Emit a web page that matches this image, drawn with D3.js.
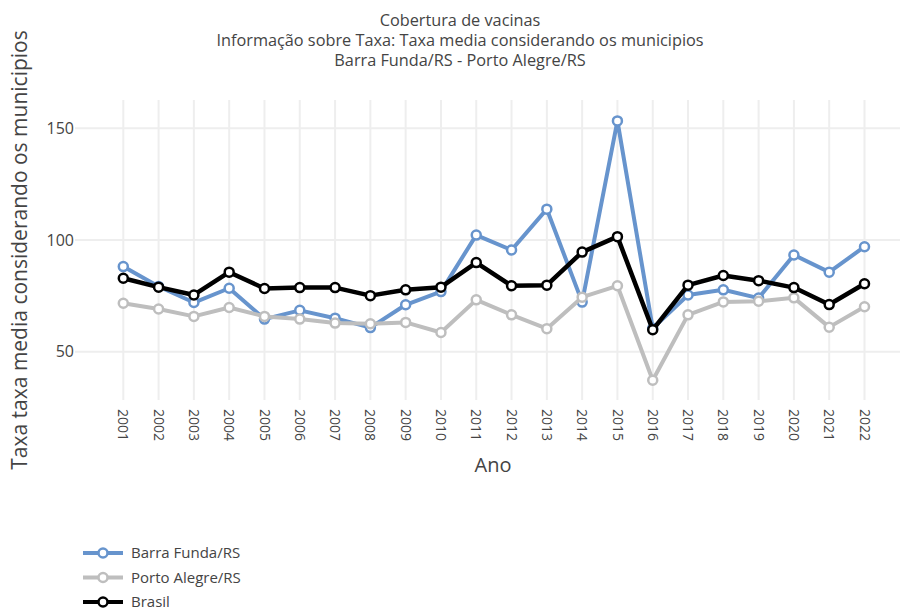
<!DOCTYPE html>
<html>
<head>
<meta charset="utf-8">
<script src="https://cdn.jsdelivr.net/npm/d3@7"></script>
<style>
  html, body { margin: 0; padding: 0; background: #fff; }
  svg { display: block; font-family: "Open Sans", "Noto Sans", sans-serif; }
</style>
</head>
<body>
<svg id="chart" width="900" height="612"></svg>
<script>
const years = ["2001","2002","2003","2004","2005","2006","2007","2008","2009","2010","2011",
               "2012","2013","2014","2015","2016","2017","2018","2019","2020","2021","2022"];
const barraFunda = [88.1, 79.2, 72.0, 78.4, 64.6, 68.5, 65.0, 60.8, 71.0, 76.9, 102.2,
                    95.5, 113.8, 72.2, 153.3, 60.5, 75.4, 77.7, 74.0, 93.3, 85.6, 97.0];
const portoAlegre = [71.7, 69.1, 65.8, 69.8, 65.8, 64.6, 62.8, 62.5, 63.1, 58.6, 73.2,
                     66.5, 60.3, 74.4, 79.5, 37.2, 66.5, 72.3, 72.6, 74.1, 61.0, 70.1];
const brasil = [82.9, 78.9, 75.4, 85.6, 78.3, 78.7, 78.7, 75.1, 77.7, 78.9, 89.9,
                79.5, 79.8, 94.6, 101.5, 59.8, 79.8, 84.1, 81.8, 78.7, 71.1, 80.4];
const yTicks = [50, 100, 150];
const seriesNames = ["Barra Funda/RS", "Porto Alegre/RS", "Brasil"];
const seriesColors = ["#6794cd", "#bebebe", "#000000"];
const titleLines = ["Cobertura de vacinas",
                    "Informação sobre Taxa: Taxa media considerando os municipios",
                    "Barra Funda/RS - Porto Alegre/RS"];
const xTitle = "Ano";
const yTitle = "Taxa taxa media considerando os municipios";

const series = [barraFunda, portoAlegre, brasil].map((vals, i) => ({
  name: seriesNames[i], color: seriesColors[i],
  points: years.map((yr, j) => ({ year: yr, value: vals[j] }))
}));

const svg = d3.select("#chart");
const plot = { left: 80, right: 900, top: 100, bottom: 400 };

const x = d3.scalePoint().domain(years).range([123.3, 864.5]);
const y = d3.scaleLinear().domain([50, 150]).range([351.7, 128.3]);

// gridlines
const grid = svg.append("g");
grid.selectAll("line.v").data(years).join("line")
  .attr("x1", d => x(d)).attr("x2", d => x(d))
  .attr("y1", plot.top).attr("y2", plot.bottom)
  .attr("stroke", "#eeeeee").attr("stroke-width", 2);
grid.selectAll("line.h").data(yTicks).join("line")
  .attr("x1", 75).attr("x2", plot.right)
  .attr("y1", d => y(d)).attr("y2", d => y(d))
  .attr("stroke", "#eeeeee").attr("stroke-width", 2);

// y tick labels
svg.append("g").selectAll("text").data(yTicks).join("text")
  .attr("x", 74).attr("y", d => y(d)).attr("dy", "0.35em")
  .attr("text-anchor", "end").attr("font-size", 16).attr("fill", "#444")
  .text(d => d);

// x tick labels (rotated)
svg.append("g").selectAll("text").data(years).join("text")
  .attr("transform", d => `translate(${x(d)},409) rotate(90)`)
  .attr("dy", "0.35em").attr("text-anchor", "start")
  .attr("font-size", 14).attr("fill", "#444")
  .text(d => d);

// axis titles
svg.append("text").attr("x", 493).attr("y", 472)
  .attr("text-anchor", "middle").attr("font-size", 20).attr("fill", "#444").text(xTitle);
svg.append("text").attr("transform", "translate(27,250) rotate(-90)")
  .attr("text-anchor", "middle").attr("font-size", 21).attr("fill", "#444").text(yTitle);

// title
svg.append("g").selectAll("text").data(titleLines).join("text")
  .attr("x", 460).attr("y", (d, i) => 26 + i * 20)
  .attr("text-anchor", "middle").attr("font-size", 16.3).attr("fill", "#444")
  .text(d => d);

// lines
const line = d3.line().x(d => x(d.year)).y(d => y(d.value));
const sg = svg.append("g").selectAll("g").data(series).join("g");
sg.append("path").attr("d", d => line(d.points))
  .attr("fill", "none").attr("stroke", d => d.color)
  .attr("stroke-width", (d, i) => i === 2 ? 4.5 : 4).attr("stroke-linejoin", "round");
sg.selectAll("circle").data(d => d.points.map(p => ({ ...p, color: d.color }))).join("circle")
  .attr("cx", d => x(d.year)).attr("cy", d => y(d.value)).attr("r", 4.5)
  .attr("fill", "#fff").attr("stroke", d => d.color).attr("stroke-width", 2.5);

// legend
const lg = svg.append("g").selectAll("g").data(series).join("g")
  .attr("transform", (d, i) => `translate(0,${553 + i * 24.5})`);
lg.append("line").attr("x1", 83).attr("x2", 123).attr("y1", 0).attr("y2", 0)
  .attr("stroke", d => d.color).attr("stroke-width", 4);
lg.append("circle").attr("cx", 103).attr("cy", 0).attr("r", 4.5)
  .attr("fill", "#fff").attr("stroke", d => d.color).attr("stroke-width", 2.5);
lg.append("text").attr("x", 131).attr("y", 0).attr("dy", "0.35em")
  .attr("font-size", 15).attr("fill", "#444").text(d => d.name);
</script>
</body>
</html>
